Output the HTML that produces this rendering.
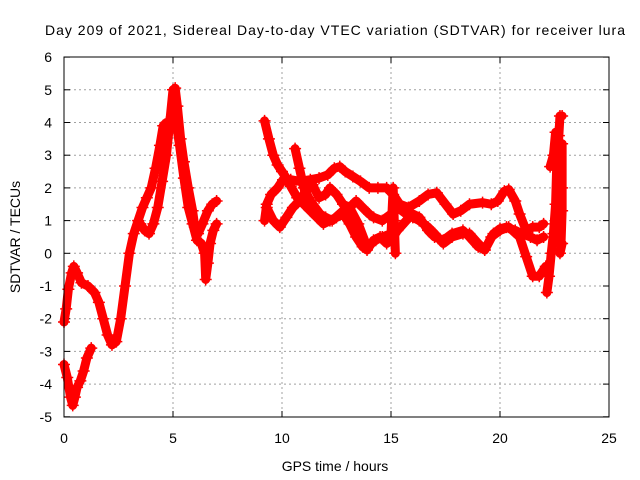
<!DOCTYPE html>
<html><head><meta charset="utf-8"><style>
body{margin:0;background:#fff}
svg{display:block;font-family:"Liberation Sans",sans-serif}
</style></head><body>
<svg id="chart" width="640" height="480">
<rect width="640" height="480" fill="#fff"/>
<text x="335" y="35" font-size="14" text-anchor="middle" textLength="580">Day 209 of 2021, Sidereal Day-to-day VTEC variation (SDTVAR) for receiver lura</text>
<text x="335" y="471" font-size="14" text-anchor="middle">GPS time / hours</text>
<text transform="translate(20,237) rotate(-90)" font-size="14" text-anchor="middle">SDTVAR / TECUs</text>
<g id="grid"></g><g id="ticks"></g><g id="series"></g>
<rect x="64" y="57" width="545" height="360" fill="none" stroke="#000" stroke-width="1"/>
</svg>
<script>
const xTicks=[0,5,10,15,20,25];
const yTicks=[-5,-4,-3,-2,-1,0,1,2,3,4,5,6];
const traceA=[[0,-3.4],[0.15,-3.8],[0.3,-4.4],[0.4,-4.65],[0.5,-4.4],[0.6,-4.1],[0.75,-3.9],[0.9,-3.6],[1.05,-3.2],[1.25,-2.9]];
const traceB=[[0,-2.1],[0.1,-1.7],[0.2,-1.1],[0.35,-0.6],[0.45,-0.4],[0.6,-0.6],[0.8,-0.9],[1.1,-1.0],[1.4,-1.2],[1.6,-1.5],[1.8,-2.0],[2.0,-2.5],[2.2,-2.8],[2.4,-2.7],[2.6,-2.0],[2.8,-1.0],[3.0,0.0],[3.2,0.6],[3.4,1.0],[3.6,1.4],[3.8,1.7],[4.0,2.0],[4.2,2.6],[4.4,3.3],[4.55,3.9],[4.7,4.0],[4.85,4.0]];
const traceC=[[3.5,0.9],[3.7,0.7],[3.9,0.6],[4.1,0.9],[4.3,1.4],[4.5,2.2],[4.7,3.0],[4.85,4.0],[5.0,5.0],[5.1,5.05],[5.2,4.5],[5.35,3.5],[5.5,2.8],[5.7,2.0],[5.9,1.3],[6.0,0.8],[6.15,0.6],[6.35,0.9],[6.6,1.3],[6.8,1.5],[7.0,1.6]];
const traceD=[[5.1,4.2],[5.3,3.3],[5.5,2.3],[5.7,1.4],[5.9,0.9],[6.1,0.4],[6.3,0.3],[6.45,0.0],[6.5,-0.8],[6.6,-0.3],[6.7,0.3],[6.85,0.7],[7.0,0.9]];
const traceE=[[9.2,4.05],[9.4,3.5],[9.6,3.0],[9.8,2.7],[10.0,2.5],[10.2,2.3],[10.4,2.05],[10.7,1.7],[11.0,1.5],[11.3,1.3],[11.6,1.1],[11.9,0.9],[12.2,1.0],[12.5,1.1],[12.8,1.2],[13.1,0.9],[13.4,0.5],[13.7,0.2],[13.9,0.1],[14.2,0.4],[14.5,0.5],[14.8,0.3],[15.0,0.4],[15.3,0.7],[15.7,1.0],[16.0,1.2],[16.3,1.1],[16.7,0.7],[17.0,0.5],[17.4,0.4],[17.8,0.6],[18.3,0.7],[18.6,0.5],[19.0,0.2],[19.3,0.1],[19.6,0.5],[20.0,0.7],[20.4,0.8],[20.9,0.5],[21.2,-0.1],[21.5,-0.7],[21.8,-0.7],[22.1,-0.4]];
const traceF=[[9.2,1.0],[9.3,1.5],[9.5,1.8],[9.8,2.0],[10.05,2.25],[10.4,2.25],[10.8,2.2],[11.3,2.25],[11.7,2.3],[12.1,2.4],[12.4,2.6],[12.65,2.65],[12.9,2.5],[13.25,2.35],[13.6,2.2],[14.0,2.0],[14.4,2.0],[14.8,2.0],[15.1,1.8],[15.4,1.5],[15.8,1.4],[16.3,1.6],[16.7,1.8],[17.1,1.85],[17.5,1.5],[17.85,1.2],[18.2,1.3],[18.6,1.5],[19.2,1.55],[19.6,1.5],[19.9,1.6],[20.2,1.9],[20.4,1.95],[20.7,1.6],[20.9,1.2],[21.2,0.7],[21.5,0.8],[21.8,0.8],[22.0,0.9]];
const traceG=[[9.3,1.4],[9.6,1.0],[9.9,0.8],[10.2,1.1],[10.5,1.4],[10.8,1.6],[11.1,1.9],[11.4,2.1],[11.7,1.7],[12.0,1.8],[12.2,2.0],[12.5,1.8],[12.8,1.5],[13.1,1.4],[13.4,1.6],[13.7,1.4],[14.0,1.2],[14.2,1.1],[14.6,1.0],[15.0,1.2],[15.3,1.4],[15.7,1.2],[16.0,1.1],[16.3,1.0],[16.7,0.8],[17.0,0.6],[17.4,0.3],[17.8,0.5],[18.3,0.6],[18.6,0.6],[19.0,0.3],[19.3,0.1],[19.7,0.6],[20.0,0.75],[20.3,0.8],[20.7,0.7],[21.0,0.6],[21.4,0.5],[21.7,0.4],[22.0,0.5]];
const traceH=[[10.6,3.2],[10.8,2.6],[11.0,2.0],[11.3,1.6],[11.75,1.2],[12.0,1.1],[12.3,1.0],[12.8,1.3],[13.1,1.4],[13.5,0.9],[13.9,0.2],[14.3,0.4],[14.6,0.5],[15.0,0.6],[15.1,2.0],[15.15,1.0],[15.2,0.0]];
const traceI=[[22.15,-1.2],[22.25,-0.7],[22.35,0.0],[22.45,0.6],[22.55,1.5],[22.6,2.65],[22.7,3.6],[22.75,4.2],[22.85,4.2]];
const traceJ=[[22.3,2.65],[22.45,3.0],[22.55,3.7],[22.7,3.4],[22.85,3.35],[22.85,2.0],[22.85,1.3],[22.8,0.3],[22.75,0.0],[22.85,0.3]];
const X=t=>64+t*21.8, Y=v=>253.3-v*32.7;
const NS='http://www.w3.org/2000/svg';
const grid=document.getElementById('grid'),ticks=document.getElementById('ticks'),ser=document.getElementById('series');
function mk(tag,at,parent){const e=document.createElementNS(NS,tag);for(const k in at)e.setAttribute(k,at[k]);parent.appendChild(e);return e;}
xTicks.forEach(t=>{
  if(t>0&&t<25){const g=mk('line',{x1:X(t),x2:X(t),y1:57,y2:417,stroke:'#a0a0a0','stroke-dasharray':'2,3'},grid);
  
  }
  mk('line',{x1:X(t),x2:X(t),y1:417,y2:411,stroke:'#000'},grid);
  mk('line',{x1:X(t),x2:X(t),y1:57,y2:63,stroke:'#000'},grid);
  const l=mk('text',{x:X(t),y:443,'font-size':14,'text-anchor':'middle'},ticks);l.textContent=t;
  
  
});
yTicks.forEach(v=>{
  if(v>-5&&v<6){const g=mk('line',{x1:64,x2:609,y1:Y(v),y2:Y(v),stroke:'#a0a0a0','stroke-dasharray':'2,3'},grid);
  
  }
  mk('line',{x1:64,x2:70,y1:Y(v),y2:Y(v),stroke:'#000'},grid);
  mk('line',{x1:603,x2:609,y1:Y(v),y2:Y(v),stroke:'#000'},grid);
  const l=mk('text',{x:52,y:Y(v)+5,'font-size':14,'text-anchor':'end'},ticks);l.textContent=v;
  
  
});
const traces=[traceA,traceB,traceC,traceD,traceE,traceF,traceG,traceH,traceI,traceJ];
traces.forEach((tr,i)=>{
  const g=mk('g',{},ser);
  
  
  mk('polyline',{points:tr.map(p=>X(p[0])+','+Y(p[1])).join(' '),fill:'none',stroke:'#ff0000','stroke-width':9,'stroke-linejoin':'round','stroke-linecap':'round'},g);
  tr.forEach(p=>{
    const m=mk('path',{d:`M${X(p[0])-6},${Y(p[1])}h12M${X(p[0])},${Y(p[1])-6}v12`,stroke:'#ff0000','stroke-width':1.5},g);
    
    
  });
});
</script>
</body></html>
